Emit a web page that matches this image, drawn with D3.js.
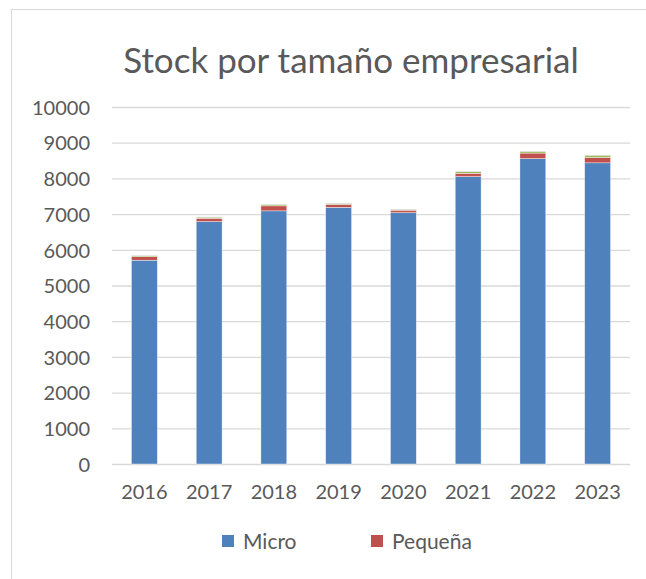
<!DOCTYPE html>
<html>
<head>
<meta charset="utf-8">
<script src="https://cdn.jsdelivr.net/npm/d3@7"></script>
<style>
  body { margin: 0; background: #fff; }
  svg text { font-family: Lato, "Open Sans", sans-serif; fill: #595959; }
</style>
</head>
<body>
<svg id="chart"></svg>
<script>
var width = 646;
var height = 579;

var years = ['2016', '2017', '2018', '2019', '2020', '2021', '2022', '2023'];
var micro   = [5710, 6790, 7090, 7190, 7040, 8050, 8555, 8435];
var pequena = [95, 95, 140, 80, 70, 95, 155, 150];
var mediana = [30, 30, 40, 30, 25, 45, 45, 65];
var grande  = [5, 5, 5, 5, 5, 5, 5, 5];
var yTicks = [0, 1000, 2000, 3000, 4000, 5000, 6000, 7000, 8000, 9000, 10000];

var seriesNames = ['Micro', 'Pequeña', 'Mediana', 'Grande'];
var colors = ['#4F81BD', '#C0504D', '#9BBB59', '#8064A2'];

var rows = years.map(function(y, i){
    return { year: y, Micro: micro[i], 'Pequeña': pequena[i], Mediana: mediana[i], Grande: grande[i] };
});

var stacked = d3.stack().keys(seriesNames)(rows);

var svg = d3.select('#chart')
    .attr('width', width)
    .attr('height', height);

// outer chart frame
svg.append('rect')
    .attr('x', 11.5)
    .attr('y', 9.5)
    .attr('width', 660)
    .attr('height', 600)
    .attr('fill', 'none')
    .attr('stroke', '#D9D9D9');

var xScale = d3.scaleBand()
    .domain(years)
    .range([112, 630])
    .paddingInner(0.6)
    .paddingOuter(0.3);

var yScale = d3.scaleLinear()
    .domain([0, 10000])
    .range([464, 107]);

var yAxis = d3.axisLeft(yScale)
    .tickValues(yTicks)
    .tickFormat(d3.format('d'))
    .tickSize(-(630 - 112))
    .tickPadding(22);

var gy = svg.append('g')
    .attr('transform', 'translate(112,0)')
    .call(yAxis);
gy.select('.domain').remove();
gy.selectAll('line').attr('stroke', '#D9D9D9').attr('stroke-width', 1.3);
gy.selectAll('text').style('font-size', '20px').attr('dy', '0.36em');

var xAxis = d3.axisBottom(xScale)
    .tickSize(0)
    .tickPadding(21);

var gx = svg.append('g')
    .attr('transform', 'translate(0,464)')
    .call(xAxis);
gx.select('.domain').remove();
gx.selectAll('text').style('font-size', '20px');

svg.append('g')
    .selectAll('g')
    .data(stacked)
    .enter()
    .append('g')
        .attr('fill', (d, i) => colors[i])
    .selectAll('rect')
    .data(d => d)
    .enter()
    .append('rect')
        .attr('x', d => xScale(d.data.year))
        .attr('width', xScale.bandwidth())
        .attr('y', d => yScale(d[1]))
        .attr('height', d => yScale(d[0]) - yScale(d[1]))
        .attr('stroke', '#fff')
        .attr('stroke-width', 0.4);

svg.append('text')
    .attr('x', 351)
    .attr('y', 73)
    .style('font-size', '35px')
    .style('text-anchor', 'middle')
    .text('Stock por tamaño empresarial');

// legend (only first two entries fit)
var legendX = [222, 371];
var legend = svg.append('g')
    .selectAll('g')
    .data(seriesNames.slice(0, 2))
    .enter()
    .append('g')
        .attr('transform', (d, i) => 'translate(' + legendX[i] + ',535)');

legend.append('rect')
    .attr('width', 12)
    .attr('height', 12)
    .attr('fill', (d, i) => colors[i]);

legend.append('text')
    .attr('x', 21)
    .attr('y', 6)
    .attr('dy', '0.36em')
    .style('font-size', '21px')
    .text(d => d);
</script>
</body>
</html>
